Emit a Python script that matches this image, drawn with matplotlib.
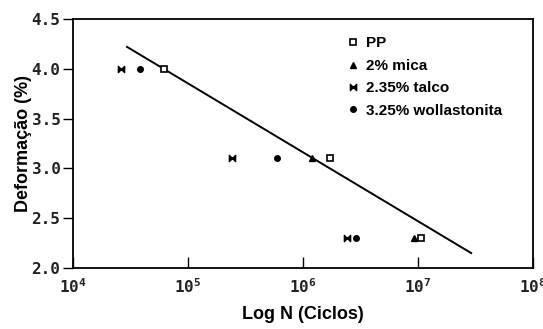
import matplotlib
matplotlib.use("Agg")
import matplotlib.pyplot as plt
from matplotlib.path import Path

plt.rcParams["mathtext.fontset"] = "custom"
plt.rcParams["mathtext.rm"] = "DejaVu Sans Mono"
plt.rcParams["mathtext.it"] = "DejaVu Sans Mono"
plt.rcParams["mathtext.bf"] = "DejaVu Sans Mono:bold"

# data
pp_n = [6.2e4, 1.7e6, 1.07e7]
pp_def = [4.0, 3.1, 2.3]
mica_n = [1.2e6, 9.3e6]
mica_def = [3.1, 2.3]
talco_n = [2.6e4, 2.4e5, 2.4e6]
talco_def = [4.0, 3.1, 2.3]
woll_n = [3.8e4, 5.9e5, 2.9e6]
woll_def = [4.0, 3.1, 2.3]
fit_n = [2.95e4, 2.9e7]
fit_def = [4.22, 2.15]

labels = ["PP", "2% mica", "2.35% talco", "3.25% wollastonita"]
x_ticks = [1e4, 1e5, 1e6, 1e7, 1e8]
x_ticklabels = [r"$\mathbf{10^4}$", r"$\mathbf{10^5}$", r"$\mathbf{10^6}$",
                r"$\mathbf{10^7}$", r"$\mathbf{10^8}$"]
y_ticks = [2.0, 2.5, 3.0, 3.5, 4.0, 4.5]

bowtie = Path([(-1, 1), (-1, -1), (1, 1), (1, -1), (-1, 1)],
              [Path.MOVETO, Path.LINETO, Path.LINETO, Path.LINETO, Path.CLOSEPOLY])

fig = plt.figure(figsize=(5.43, 3.29), dpi=100)
ax = fig.add_axes([73 / 543, 1 - 268 / 329, 460 / 543, 249 / 329])

ax.plot(fit_n, fit_def, color="black", lw=1.4)
ax.plot(pp_n, pp_def, ls="none", marker="s", ms=5, mfc="white", mec="black", mew=1.2, label=labels[0])
ax.plot(mica_n, mica_def, ls="none", marker="^", ms=5, color="black", label=labels[1])
ax.plot(talco_n, talco_def, ls="none", marker=bowtie, ms=4.5, color="black", label=labels[2])
ax.plot(woll_n, woll_def, ls="none", marker="o", ms=4, color="black", label=labels[3])

ax.set_xscale("log")
ax.set_xlim(1e4, 1e8)
ax.set_ylim(2.0, 4.5)
ax.set_xticks(x_ticks)
ax.set_xticklabels(x_ticklabels)
ax.set_yticks(y_ticks)
ax.set_yticklabels([f"{v:.1f}" for v in y_ticks])
ax.minorticks_off()
ax.tick_params(axis="x", direction="in", length=8, width=1, pad=7)
ax.tick_params(axis="y", direction="out", length=7, width=1, pad=2)
for lab in ax.get_xticklabels() + ax.get_yticklabels():
    lab.set_fontfamily("DejaVu Sans Mono")
    lab.set_fontsize(11.5)
    lab.set_fontweight("bold")
    lab.set_color("#222222")
for s in ax.spines.values():
    s.set_linewidth(1.3)

ax.set_xlabel("Log N (Ciclos)", fontsize=13, fontweight="bold", family="Liberation Sans", labelpad=7)
ax.set_ylabel("Deformação (%)", fontsize=13, fontweight="bold", family="Liberation Sans", labelpad=0)

leg = ax.legend(loc="upper left", bbox_to_anchor=(0.56, 0.985), frameon=False,
                prop={"family": "Liberation Sans", "weight": "bold", "size": 11},
                handletextpad=0.3, labelspacing=0.55, handlelength=1.1)

fig.savefig("out.png", dpi=100)
